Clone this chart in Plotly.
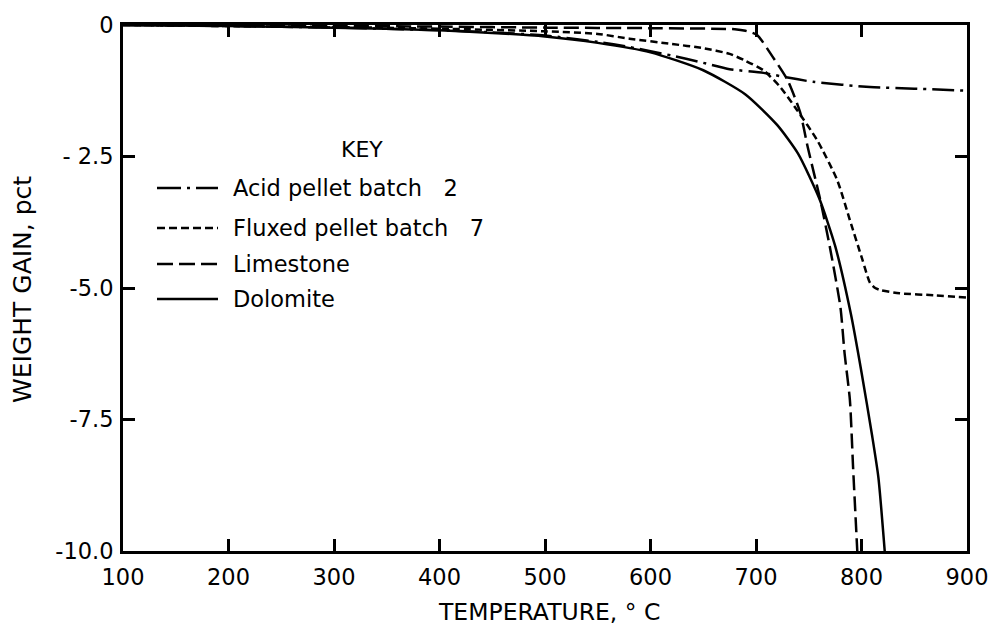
import plotly.graph_objects as go

# Weight change curves vs temperature
acid_t = [100, 200, 300, 400, 450, 500, 550, 580, 620, 650, 675, 707, 730, 754, 808, 850, 900]
acid_w = [0, -0.02, -0.05, -0.1, -0.14, -0.2, -0.32, -0.42, -0.58, -0.72, -0.84, -0.91, -1.0, -1.08, -1.18, -1.21, -1.25]

fluxed_t = [100, 200, 300, 400, 500, 550, 580, 620, 650, 675, 690, 707, 723, 739, 758, 777, 789, 801, 808, 813, 818, 836, 870, 900]
fluxed_w = [0, -0.02, -0.04, -0.07, -0.12, -0.17, -0.26, -0.36, -0.44, -0.55, -0.68, -0.86, -1.18, -1.62, -2.19, -2.95, -3.71, -4.47, -4.9, -5.0, -5.04, -5.1, -5.14, -5.18]

lime_t = [100, 200, 300, 400, 500, 600, 680, 690, 701, 716, 730, 742, 749, 761, 770, 780, 784, 789, 792, 796]
lime_w = [0, -0.01, -0.02, -0.03, -0.05, -0.06, -0.08, -0.11, -0.19, -0.61, -1.05, -1.67, -2.32, -3.33, -4.22, -5.36, -6.25, -7.13, -8.4, -10.0]

dolo_t = [100, 200, 300, 400, 450, 500, 550, 600, 650, 690, 720, 740, 760, 775, 790, 800, 810, 816, 822]
dolo_w = [0, -0.02, -0.05, -0.1, -0.15, -0.22, -0.34, -0.52, -0.86, -1.32, -1.9, -2.45, -3.3, -4.2, -5.5, -6.6, -7.8, -8.6, -10.0]

x_ticks = [100, 200, 300, 400, 500, 600, 700, 800, 900]
y_ticks = [0, -2.5, -5.0, -7.5, -10.0]
y_tick_text = ["0", "- 2.5", "-5.0", "-7.5", "-10.0"]

NB = "\u00a0"
series = [
    ("Acid pellet batch" + NB * 3 + "2", acid_t, acid_w, "22px,6px,3px,6px"),
    ("Fluxed pellet batch" + NB * 3 + "7", fluxed_t, fluxed_w, "7px,4px"),
    ("Limestone", lime_t, lime_w, "15px,6px"),
    ("Dolomite", dolo_t, dolo_w, "solid"),
]
legend_dash = ["24px,6px,3px,6px", "8px,4px", "16px,6px", "solid"]

FONT = "DejaVu Sans, Verdana, sans-serif"
W, H = 992, 626
ML, MR, MT, MB = 123, 25, 25, 75
PW, PH = W - ML - MR, H - MT - MB

fig = go.Figure()
for name, t, w, dash in series:
    fig.add_trace(go.Scatter(
        x=t, y=w, mode="lines", name=name, showlegend=False,
        line=dict(color="black", width=2.5, dash=dash, shape="spline", smoothing=0.6),
    ))


def px(xp):
    return (xp - ML) / PW


def py(yp):
    return (H - MB - yp) / PH


def label(text, xp, yp, size, xanchor="center", angle=0):
    fig.add_annotation(text=text, x=px(xp), y=py(yp), xref="paper", yref="paper",
                       xanchor=xanchor, yanchor="middle", showarrow=False,
                       textangle=angle,
                       font=dict(size=size, color="black", family=FONT))


# Key drawn inside the plot area
label("KEY", 362, 149, 22)
rows = [188, 228, 264, 299]
for (name, t, w, dash), ld, yr in zip(series, legend_dash, rows):
    fig.add_shape(type="line", xref="paper", yref="paper",
                  x0=px(157), x1=px(218), y0=py(yr), y1=py(yr),
                  line=dict(color="black", width=2.6, dash=ld))
    label(name, 231, yr, 22.5, xanchor="left")

# Axis titles
label("TEMPERATURE, °" + NB + "C", 549, 612, 23.5)
label("WEIGHT GAIN, pct", 23, 290, 25, angle=-90)

axis_common = dict(
    showline=True, linecolor="black", linewidth=3, mirror="ticks",
    ticks="inside", ticklen=12, tickwidth=2.5, tickcolor="black",
    showgrid=False, zeroline=False, automargin=False,
    tickfont=dict(size=22.5, color="black", family=FONT),
)

fig.update_xaxes(range=[100, 900], tickvals=x_ticks, ticklabelstandoff=4, **axis_common)
fig.update_yaxes(range=[-10, 0], tickvals=y_ticks, ticktext=y_tick_text,
                 ticklabelstandoff=2, **axis_common)

fig.update_layout(
    width=W, height=H,
    margin=dict(l=ML, r=MR, t=MT, b=MB),
    paper_bgcolor="white", plot_bgcolor="white",
    font=dict(family=FONT, color="black"),
)

fig.write_html("out.html")
